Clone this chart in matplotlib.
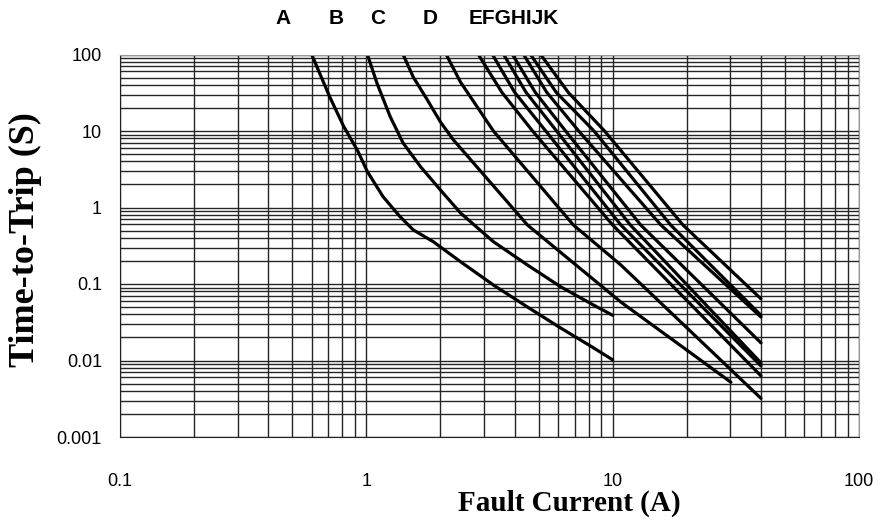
import matplotlib.pyplot as plt

# trip curves: current (A) and time-to-trip (s)
a_current = [0.60, 0.71, 0.81, 0.92, 1.01, 1.17, 1.37, 1.55, 1.87, 2.41, 3.28, 4.51, 6.15, 8.37, 10.0]
a_time = [100, 28, 11.4, 5.6, 2.94, 1.38, 0.76, 0.51, 0.357, 0.196, 0.097, 0.050, 0.0266, 0.0146, 0.0102]

b_current = [1.01, 1.105, 1.25, 1.41, 1.66, 2.0, 2.41, 3.28, 4.51, 6.15, 8.37, 10.0]
b_time = [100, 42, 15.4, 6.97, 3.41, 1.69, 0.85, 0.357, 0.177, 0.092, 0.053, 0.039]

c_current = [1.41, 1.55, 1.77, 2.0, 2.26, 2.41, 4.51, 10.8, 30.2]
c_time = [100, 50.8, 25.4, 13.1, 7.6, 6.0, 0.59, 0.058, 0.0052]

d_current = [2.11, 2.41, 3.28, 6.93, 10.8, 40]
d_time = [100, 43.7, 10, 0.59, 0.177, 0.0032]

e_current = [2.85, 3.55, 4.73, 10.0, 40]
e_time = [100, 32, 10, 0.59, 0.0063]

f_current = [3.25, 4.0, 5.35, 10.8, 40]
f_time = [100, 32, 10, 0.59, 0.0085]

g_current = [3.61, 4.45, 5.92, 11.8, 40]
g_time = [100, 32, 10, 0.59, 0.0093]

h_current = [3.92, 4.85, 6.44, 13.0, 40]
h_time = [100, 32, 10, 0.59, 0.017]

i_current = [4.35, 5.4, 7.28, 15.7, 40]
i_time = [100, 32, 10, 0.59, 0.037]

j_current = [4.64, 5.9, 8.4, 17.2, 40]
j_time = [100, 32, 10, 0.59, 0.039]

k_current = [5.1, 6.6, 9.27, 19.3, 40]
k_time = [100, 32, 10, 0.59, 0.064]

curves = [(a_current, a_time), (b_current, b_time), (c_current, c_time),
          (d_current, d_time), (e_current, e_time), (f_current, f_time),
          (g_current, g_time), (h_current, h_time), (i_current, i_time),
          (j_current, j_time), (k_current, k_time)]

x_ticks = [0.1, 1, 10, 100]
x_labels = ['0.1', '1', '10', '100']
y_ticks = [0.001, 0.01, 0.1, 1, 10, 100]
y_labels = ['0.001', '0.01', '0.1', '1', '10', '100']

W, H = 881, 523
fig = plt.figure(figsize=(W / 100, H / 100), dpi=100)
ax = fig.add_axes([120 / W, 1 - 437 / H, (859 - 120) / W, (437 - 54.5) / H])
ax.set_xscale('log')
ax.set_yscale('log')
ax.set_xlim(0.1, 100)
ax.set_ylim(0.001, 100)

for x, y in curves:
    ax.plot(x, y, color='black', lw=2.3, solid_capstyle='round', solid_joinstyle='round')

ax.grid(True, which='both', color='#262626', lw=1.0)
ax.set_axisbelow(True)
ax.set_xticks(x_ticks)
ax.set_xticklabels(x_labels)
ax.set_yticks(y_ticks)
ax.set_yticklabels(y_labels)
ax.tick_params(which='both', length=0)
ax.tick_params(axis='x', pad=26)
ax.tick_params(axis='y', pad=13)
for lab in ax.get_xticklabels() + ax.get_yticklabels():
    lab.set_fontfamily('Liberation Sans')
    lab.set_fontsize(13)

for side in ['left', 'bottom']:
    ax.spines[side].set_color('#222222')
for side in ['top', 'right']:
    ax.spines[side].set_color('#999999')

# curve letters along the top
letters = ['A', 'B', 'C', 'D', 'EFGHIJK']
letter_x = [282.7, 336, 377.3, 430, 513.7]
for t, px in zip(letters, letter_x):
    fig.text(px / W, 1 - 19 / H, t, ha='center', va='center', fontsize=15,
             fontweight='bold', family='Liberation Sans')

fig.text(25 / W, 1 - 240 / H, 'Time-to-Trip (S)', rotation=90, ha='center', va='center',
         fontsize=26, fontweight='bold', family='Liberation Serif')
fig.text(569 / W, 1 - 503 / H, 'Fault Current (A)', ha='center', va='center',
         fontsize=21, fontweight='bold', family='Liberation Serif')

fig.savefig('out.png', dpi=100)
